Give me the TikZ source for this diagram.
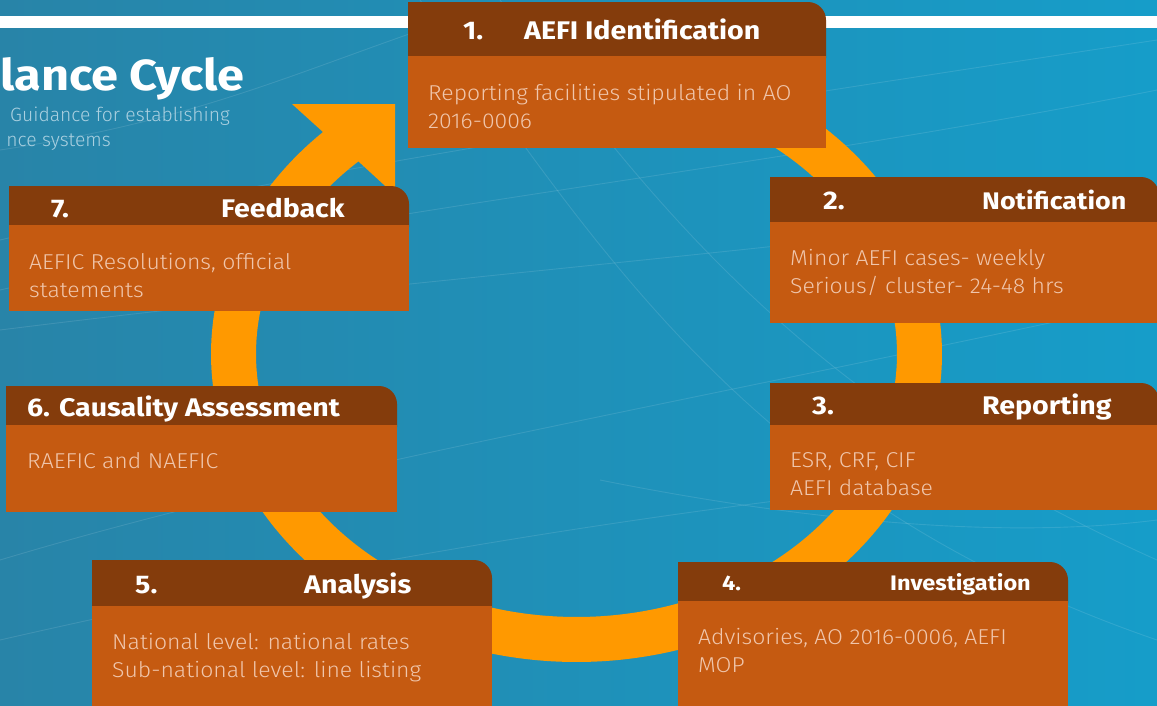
\documentclass[tikz,border=0pt]{standalone}
\usepackage{fontspec}
\setmainfont{Fira Sans}
\newfontfamily\hfont{Fira Sans}[FakeStretch=1.12]
\newfontfamily\lightf{Fira Sans Light}[FakeStretch=1.07]
\newfontfamily\sublight{Fira Sans Light}
\definecolor{bgl}{RGB}{40,132,168}
\definecolor{bgr}{RGB}{22,157,201}
\definecolor{hdrc}{RGB}{132,60,12}
\definecolor{bodyc}{RGB}{197,90,17}
\definecolor{ringc}{RGB}{255,153,0}
\definecolor{btext}{RGB}{240,198,172}
\definecolor{subc}{RGB}{170,208,224}
\newcommand\aefibox[5]{%
  \fill[hdrc, rounded corners=18pt] (#1,#2) rectangle (#3,#4+20);
  \fill[hdrc] (#1,#2) rectangle (#3-20,#4);
  \fill[bodyc] (#1,#4) rectangle (#3,#5);
}
\begin{document}
\begin{tikzpicture}[x=1pt,y=-1pt,
  htext/.style={anchor=base west, inner sep=0pt, text=white, font=\hfont\bfseries\fontsize{25.5}{30}\selectfont},
  hsmall/.style={htext, font=\hfont\bfseries\fontsize{21}{24}\selectfont},
  btxt/.style={anchor=base west, inner sep=0pt, text=btext, font=\lightf\fontsize{21.5}{28}\selectfont, align=left},
  wave/.style={white, opacity=0.11, line width=0.9pt},
]
\useasboundingbox (0,0) rectangle (1157,705);
\clip (0,0) rectangle (1157,705);
\shade[left color=bgl, right color=bgr] (0,0) rectangle (1157,705);
% faint background waves
\draw[wave] (0,240) .. controls (300,170) and (700,110) .. (1157,40);
\draw[wave] (0,290) .. controls (350,210) and (760,170) .. (1157,90);
\draw[wave] (0,330) .. controls (400,280) and (800,250) .. (1157,200);
\draw[wave] (0,560) .. controls (300,470) and (600,420) .. (1157,300);
\draw[wave] (0,640) .. controls (350,560) and (700,500) .. (1157,460);
\draw[wave] (500,0) .. controls (650,200) and (800,400) .. (1157,560);
\draw[wave] (420,0) .. controls (600,250) and (750,500) .. (1157,640);
\draw[wave] (0,150) .. controls (200,120) and (300,70) .. (450,20);
\draw[wave] (600,480) .. controls (800,520) and (1000,540) .. (1157,520);
% white band
\fill[white] (0,16) rectangle (1157,28);
% title
\node[anchor=base east, inner sep=0pt, text=white, font=\hfont\bfseries\fontsize{43.5}{50}\selectfont] (title) at (245,90) {lance Cycle};
\node[anchor=base west, inner sep=0pt, text=subc, font=\sublight\fontsize{19.3}{24}\selectfont] (sub1) at (10,121) {Guidance for establishing};
\node[anchor=base east, inner sep=0pt, text=subc, font=\sublight\fontsize{19.3}{24}\selectfont] (sub2) at (111,146) {nce systems};
% ring with arrow
\draw[ringc, line width=45pt] plot[domain=-70:228, samples=200, smooth, variable=\t] ({576.5+343*cos(\t)},{354+285.5*sin(\t)});
\fill[ringc] (323,132) -- (292,104) -- (395,104) -- (395,195) -- (358,161) -- cycle;
% boxes
\aefibox{408}{2}{826}{56}{148}
\aefibox{770}{177}{1159}{222}{323}
\aefibox{770}{383}{1159}{425}{510}
\aefibox{678}{562}{1068}{601}{710}
\aefibox{92}{560}{492}{606}{710}
\aefibox{6}{386}{397}{425}{512}
\aefibox{9}{186}{409}{225}{311}
% box 1
\node[htext] (n1) at (463,39) {1.};
\node[htext] (t1) at (524,39) {AEFI Identification};
\node[btxt] (b1) at (428,128) {Reporting facilities stipulated in AO\\2016-0006};
% box 2
\node[htext] (n2) at (823,209) {2.};
\node[htext, font=\hfont\bfseries\fontsize{24}{30}\selectfont] (t2) at (982,209) {Notification};
\node[btxt] (b2) at (790,293) {Minor AEFI cases- weekly\\Serious/ cluster- 24-48 hrs};
% box 3
\node[htext] (n3) at (812,414) {3.};
\node[htext] (t3) at (982,414) {Reporting};
\node[btxt] (b3) at (790,495) {ESR, CRF, CIF\\AEFI database};
% box 4
\node[hsmall] (n4) at (722,590) {4.};
\node[hsmall] (t4) at (890,590) {Investigation};
\node[btxt] (b4) at (698,672) {Advisories, AO 2016-0006, AEFI\\MOP};
% box 5
\node[htext] (n5) at (135,593) {5.};
\node[htext] (t5) at (304,593) {Analysis};
\node[btxt] (b5) at (112,677) {National level: national rates\\Sub-national level: line listing};
% box 6
\node[htext] (t6) at (27,416) {6. Causality Assessment};
\node[btxt] (b6) at (27,468) {RAEFIC and NAEFIC};
% box 7
\node[htext] (n7) at (51,217) {7.};
\node[htext] (t7) at (221,217) {Feedback};
\node[btxt] (b7) at (29,297) {AEFIC Resolutions, official\\statements};
\end{tikzpicture}
\end{document}
